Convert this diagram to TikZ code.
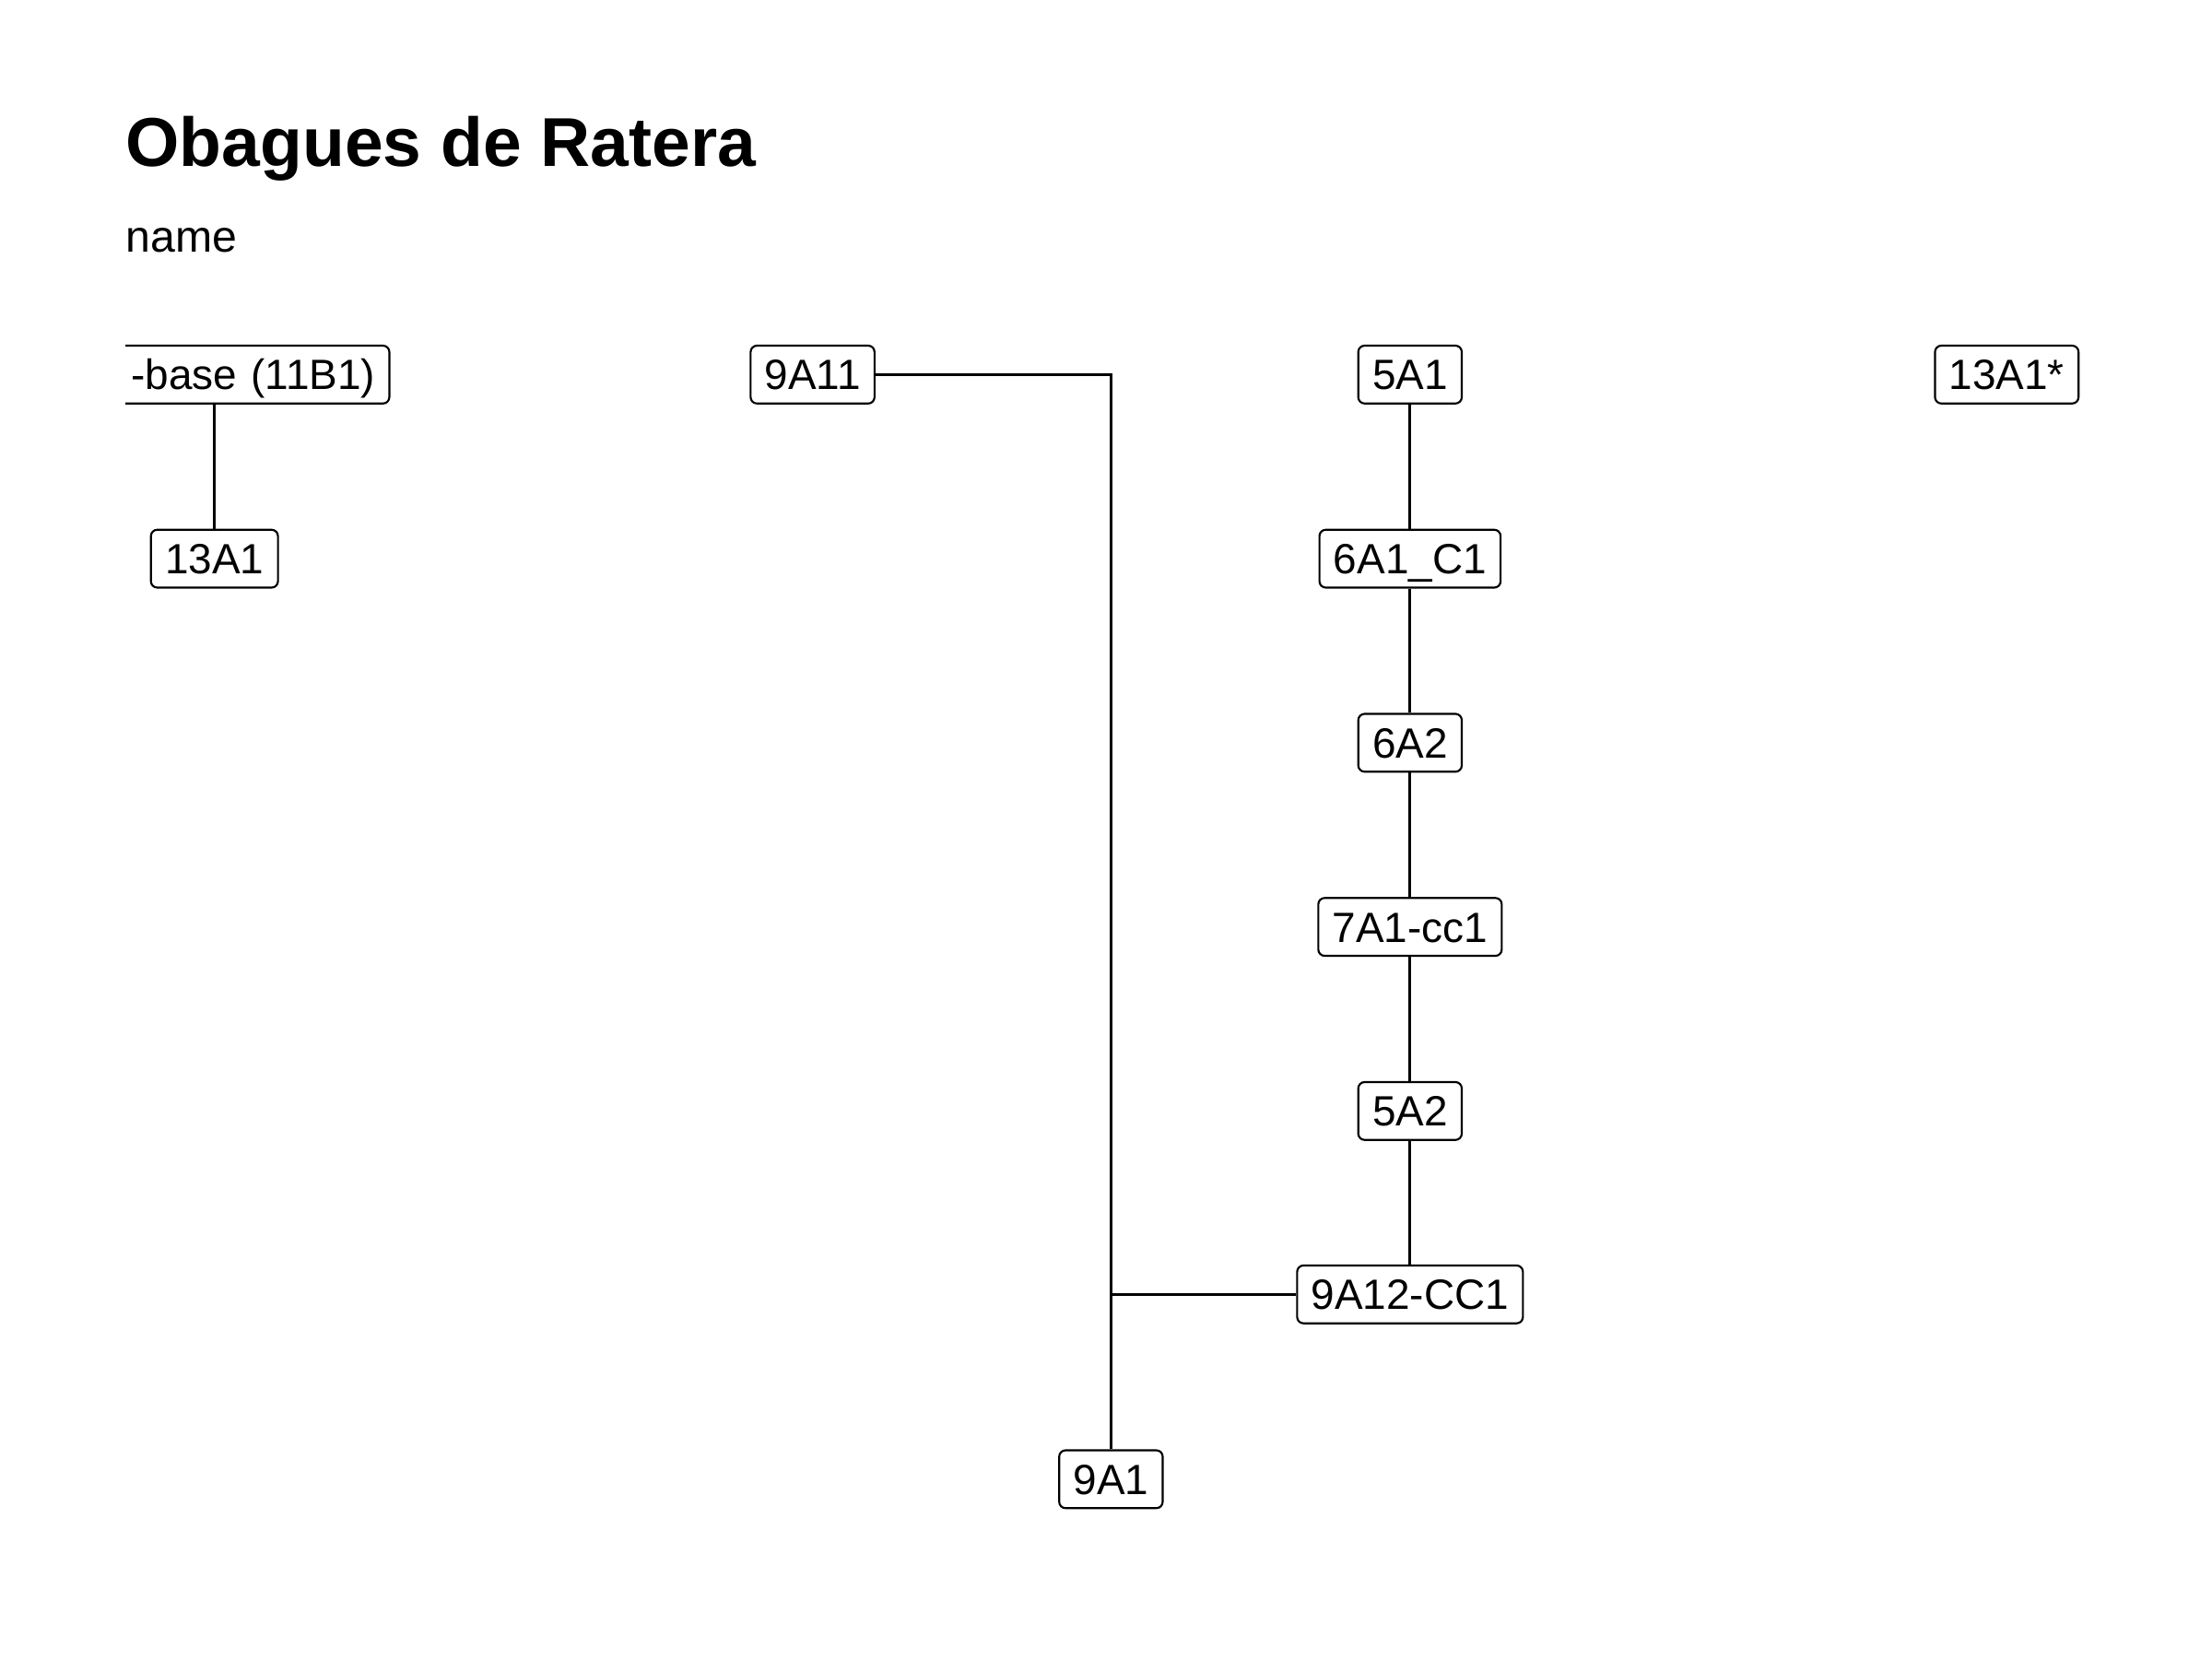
\documentclass[tikz,border=0pt]{standalone}
\usepackage{fontspec}
\setmainfont{Liberation Sans}
\begin{document}
\begin{tikzpicture}[x=1pt,y=-1pt,
  box/.style={draw=black, line width=1.4pt, rounded corners=4.5pt, fill=white,
    font=\fontsize{30}{30}\selectfont, inner xsep=10pt, inner ysep=9.75pt,
    text height=21.5pt, text depth=0pt, anchor=center},
  link/.style={draw=black, line width=1.8pt}]
\useasboundingbox (0,0) rectangle (1568,1176);
\fill[white] (0,0) rectangle (1568,1176);
\node[anchor=base west, inner sep=0pt, font=\fontsize{49}{49}\selectfont\bfseries] (title) at (89,118) {Obagues de Ratera};
\node[anchor=base west, inner sep=0pt, font=\fontsize{31.5}{31.5}\selectfont] (sub) at (89,179) {name};
\begin{scope}
\clip (89,0) rectangle (1568,1176);
\node[box, text width=228pt, align=right] (base) at (152,265.5) {-base (11B1)};
\end{scope}
\node[box] (n13a1) at (152,396) {13A1};
\node[box] (n9a11) at (576,265.5) {9A11};
\node[box] (n5a1) at (999.5,265.5) {5A1};
\node[box] (n13a1s) at (1422.5,265.5) {13A1*};
\node[box] (n6a1) at (999.5,396) {6A1\_C1};
\node[box] (n6a2) at (999.5,526.5) {6A2};
\node[box] (n7a1) at (999.5,657) {7A1-cc1};
\node[box] (n5a2) at (999.5,787.5) {5A2};
\node[box] (n9a12) at (999.5,917.5) {9A12-CC1};
\node[box] (n9a1) at (787.5,1048.5) {9A1};
\draw[link] (base.south -| n13a1.north) -- (n13a1.north);
\draw[link] (n9a11.east) -| (n9a1.north);
\coordinate (j) at (n9a12.west -| n9a1.north);
\draw[link] (n9a12.west) -- (j);
\draw[link] (n5a1.south) -- (n6a1.north);
\draw[link] (n6a1.south) -- (n6a2.north);
\draw[link] (n6a2.south) -- (n7a1.north);
\draw[link] (n7a1.south) -- (n5a2.north);
\draw[link] (n5a2.south) -- (n9a12.north);
\end{tikzpicture}
\end{document}
